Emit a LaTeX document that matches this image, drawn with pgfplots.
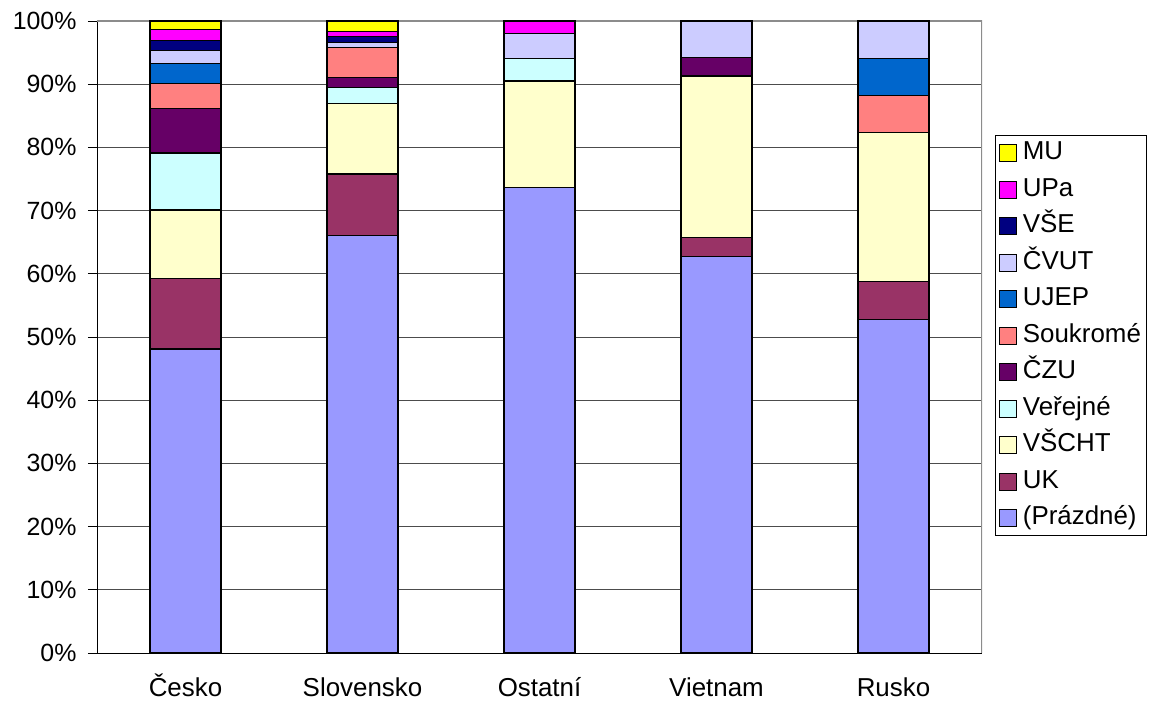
\documentclass[border=0pt]{standalone}
\usepackage{pgfplots}
\pgfplotsset{compat=1.18}
\usepackage{fontspec}
\setmainfont{Liberation Sans}
\definecolor{cPr}{HTML}{9999FF}
\definecolor{cUK}{HTML}{993366}
\definecolor{cVSCHT}{HTML}{FFFFCC}
\definecolor{cVer}{HTML}{CCFFFF}
\definecolor{cCZU}{HTML}{660066}
\definecolor{cSouk}{HTML}{FF8080}
\definecolor{cUJEP}{HTML}{0066CC}
\definecolor{cCVUT}{HTML}{CCCCFF}
\definecolor{cVSE}{HTML}{000080}
\definecolor{cUPa}{HTML}{FF00FF}
\definecolor{cMU}{HTML}{FFFF00}
\begin{document}
\begin{tikzpicture}
\useasboundingbox (-97bp,-51bp) rectangle (1062bp,653bp);
\begin{axis}[
  at={(0,0)}, anchor=south west,
  scale only axis, width=885bp, height=632bp,
  ybar stacked, bar width=71bp,
  xmin=-0.5, xmax=4.5, ymin=0, ymax=100,
  axis x line*=bottom, axis y line*=left,
  axis line style={black, line width=0.8bp, -},
  xtick={0,1,2,3,4},
  xticklabels={Česko,Slovensko,Ostatní,Vietnam,Rusko},
  major x tick style={draw=none},
  extra x ticks={-0.5,0.5,1.5,2.5,3.5,4.5},
  extra x tick labels={},
  extra x tick style={tick style={black, line width=0.8bp}, major tick length=9bp},
  ytick={0,10,...,100},
  yticklabel={\pgfmathprintnumber{\tick}\%},
  tick align=outside,
  major tick length=9bp,
  y tick style={black, line width=0.8bp},
  ymajorgrids,
  grid style={draw=black!70, line width=0.8bp},
  /pgf/number format/assume math mode=true,
  yticklabel style={font=\fontsize{25}{30}\selectfont, xshift=-8bp},
  xticklabel style={font=\fontsize{26}{30}\selectfont, text height=19bp, text depth=5bp, anchor=north, yshift=-12bp},
  every axis plot/.append style={draw=black, line width=1.2bp},
  reverse legend,
  legend style={at={(1.0147,0.8196)}, anchor=north west,
    font=\fontsize{26}{30}\selectfont, draw=black, line width=0.8bp,
    row sep=9.5bp, inner sep=4bp,
    nodes={text height=19bp, text depth=5bp, inner sep=1.5bp},
    cells={anchor=west}},
  legend image code/.code={\draw[#1, line width=0.8bp] (5bp,-8.5bp) rectangle (22bp,8.5bp); \path (26bp,0bp);},
]
\addplot[fill=cPr] coordinates {(0,48.1) (1,66.1) (2,73.6) (3,62.8) (4,52.8)};
\addplot[fill=cUK] coordinates {(0,11.2) (1,9.7) (2,0) (3,2.9) (4,6.0)};
\addplot[fill=cVSCHT] coordinates {(0,10.8) (1,11.2) (2,16.9) (3,25.6) (4,23.6)};
\addplot[fill=cVer] coordinates {(0,9.0) (1,2.5) (2,3.6) (3,0) (4,0)};
\addplot[fill=cCZU] coordinates {(0,7.1) (1,1.5) (2,0) (3,2.9) (4,0)};
\addplot[fill=cSouk] coordinates {(0,3.9) (1,4.8) (2,0) (3,0) (4,5.8)};
\addplot[fill=cUJEP] coordinates {(0,3.2) (1,0) (2,0) (3,0) (4,5.9)};
\addplot[fill=cCVUT] coordinates {(0,2.0) (1,0.8) (2,3.9) (3,5.8) (4,5.9)};
\addplot[fill=cVSE] coordinates {(0,1.6) (1,0.9) (2,0) (3,0) (4,0)};
\addplot[fill=cUPa] coordinates {(0,1.8) (1,0.8) (2,2.0) (3,0) (4,0)};
\addplot[fill=cMU] coordinates {(0,1.3) (1,1.7) (2,0) (3,0) (4,0)};
\legend{(Prázdné),UK,VŠCHT,Veřejné,ČZU,Soukromé,UJEP,ČVUT,VŠE,UPa,MU}
\draw[black!45, line width=1.2bp] (rel axis cs:0,1) -- (rel axis cs:1,1) -- (rel axis cs:1,0);
\end{axis}
\end{tikzpicture}
\end{document}
